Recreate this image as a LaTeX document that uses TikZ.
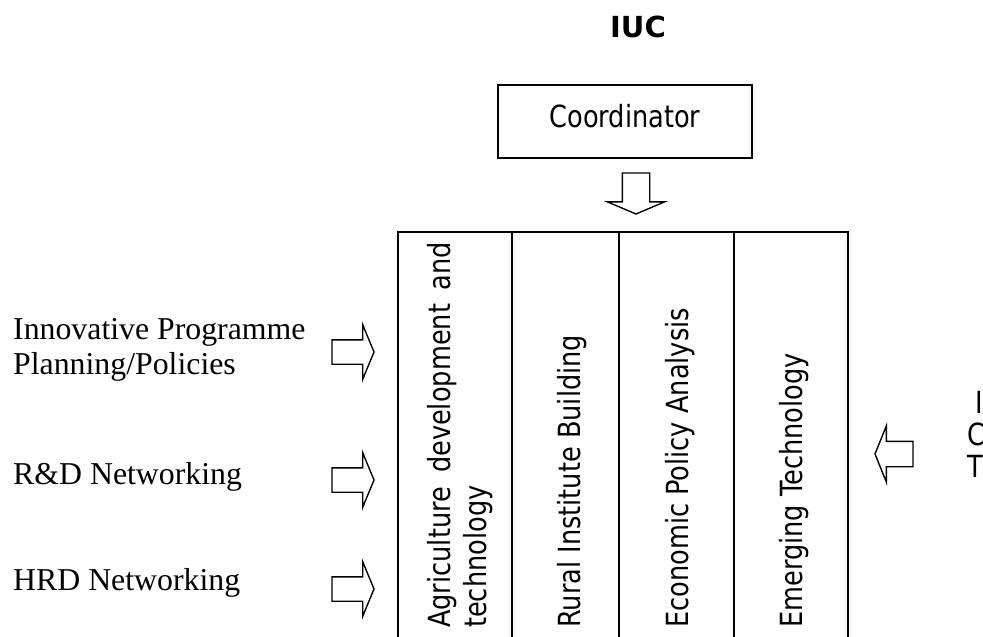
\documentclass[tikz,border=0pt]{standalone}
\usepackage{fontspec}
\setmainfont{Liberation Serif}
\newfontfamily\tahfont{DejaVu Sans}[FakeStretch=0.84]
\newfontfamily\verdfont{DejaVu Sans}
\usetikzlibrary{shapes.arrows}
\tikzset{
  sanslabel/.style={font=\tahfont\fontsize{30.5}{36}\selectfont, inner sep=0pt},
  seriflabel/.style={font=\fontsize{31.8}{36}\selectfont, inner sep=0pt, anchor=base west},
  columnbox/.style={draw, line width=1.5pt, inner sep=0pt, anchor=north west, minimum height=440pt},
  vlabel/.style={sanslabel, rotate=90, anchor=base west},
  blockarrow/.style={single arrow, draw, line width=1.4pt, outer sep=0pt, anchor=tip},
}
\begin{document}
\begin{tikzpicture}[x=1pt,y=-1pt]
\path[use as bounding box] (0,0) rectangle (983,637);
\clip (0,0) rectangle (983,637);

% title
\node[font=\verdfont\bfseries\fontsize{29}{34}\selectfont, inner sep=0pt, anchor=base] (iuc) at (638,37) {IUC};

% coordinator
\node[sanslabel, draw, line width=2pt, minimum width=254pt, minimum height=73pt,
      text height=22pt, text depth=11pt] (coord) at (625,121.5) {Coordinator};

% table columns
\node[columnbox, minimum width=114pt] (col1) at (397,231) {};
\node[columnbox, minimum width=107pt] (col2) at (511,231) {};
\node[columnbox, minimum width=115pt] (col3) at (618,231) {};
\node[columnbox, minimum width=114pt] (col4) at (733,231) {};

\node[vlabel] (agri) at (450,628) {\makebox[386pt][s]{Agriculture development and}};
\node[vlabel] (tech) at (486,628) {technology};
\node[vlabel] (rural) at (580,628) {Rural Institute Building};
\node[vlabel] (econ) at (688,628) {Economic Policy Analysis};
\node[vlabel] (emerg) at (802,628) {Emerging Technology};

% down arrow from coordinator to table
\node[blockarrow, shape border rotate=270, minimum height=41pt, minimum width=56pt,
      inner xsep=13pt, inner ysep=0pt, single arrow head extend=15pt, single arrow tip angle=134]
      (darrow) at (636,214) {};

% left labels
\node[seriflabel] (innov1) at (13,339) {Innovative Programme};
\node[seriflabel] (innov2) at (13,374) {Planning/Policies};
\node[seriflabel] (rd) at (13,484) {R\&D Networking};
\node[seriflabel] (hrd) at (13,590) {HRD Networking};

% right-pointing arrows into the table
\node[blockarrow, minimum height=42pt, minimum width=53pt, inner xsep=0pt, inner ysep=11.5pt,
      single arrow head extend=15pt, single arrow tip angle=135] (ra1) at (374,352) {};
\node[blockarrow, minimum height=42pt, minimum width=53pt, inner xsep=0pt, inner ysep=11.5pt,
      single arrow head extend=15pt, single arrow tip angle=135] (ra2) at (374,480) {};
\node[blockarrow, minimum height=42pt, minimum width=53pt, inner xsep=0pt, inner ysep=11.5pt,
      single arrow head extend=15pt, single arrow tip angle=135] (ra3) at (374,589) {};

% left-pointing arrow from the right
\node[blockarrow, shape border rotate=180, minimum height=38pt, minimum width=55pt,
      inner xsep=0pt, inner ysep=12pt, single arrow head extend=15.5pt, single arrow tip angle=136]
      (la) at (875,454) {};

% right-hand labels (cut by the picture edge, as in the reference)
\node[sanslabel, anchor=base west] (rt1) at (975,413) {I};
\node[sanslabel, anchor=base west] (rt2) at (967,445) {C};
\node[sanslabel, anchor=base west] (rt3) at (967,477) {T};
\end{tikzpicture}
\end{document}
